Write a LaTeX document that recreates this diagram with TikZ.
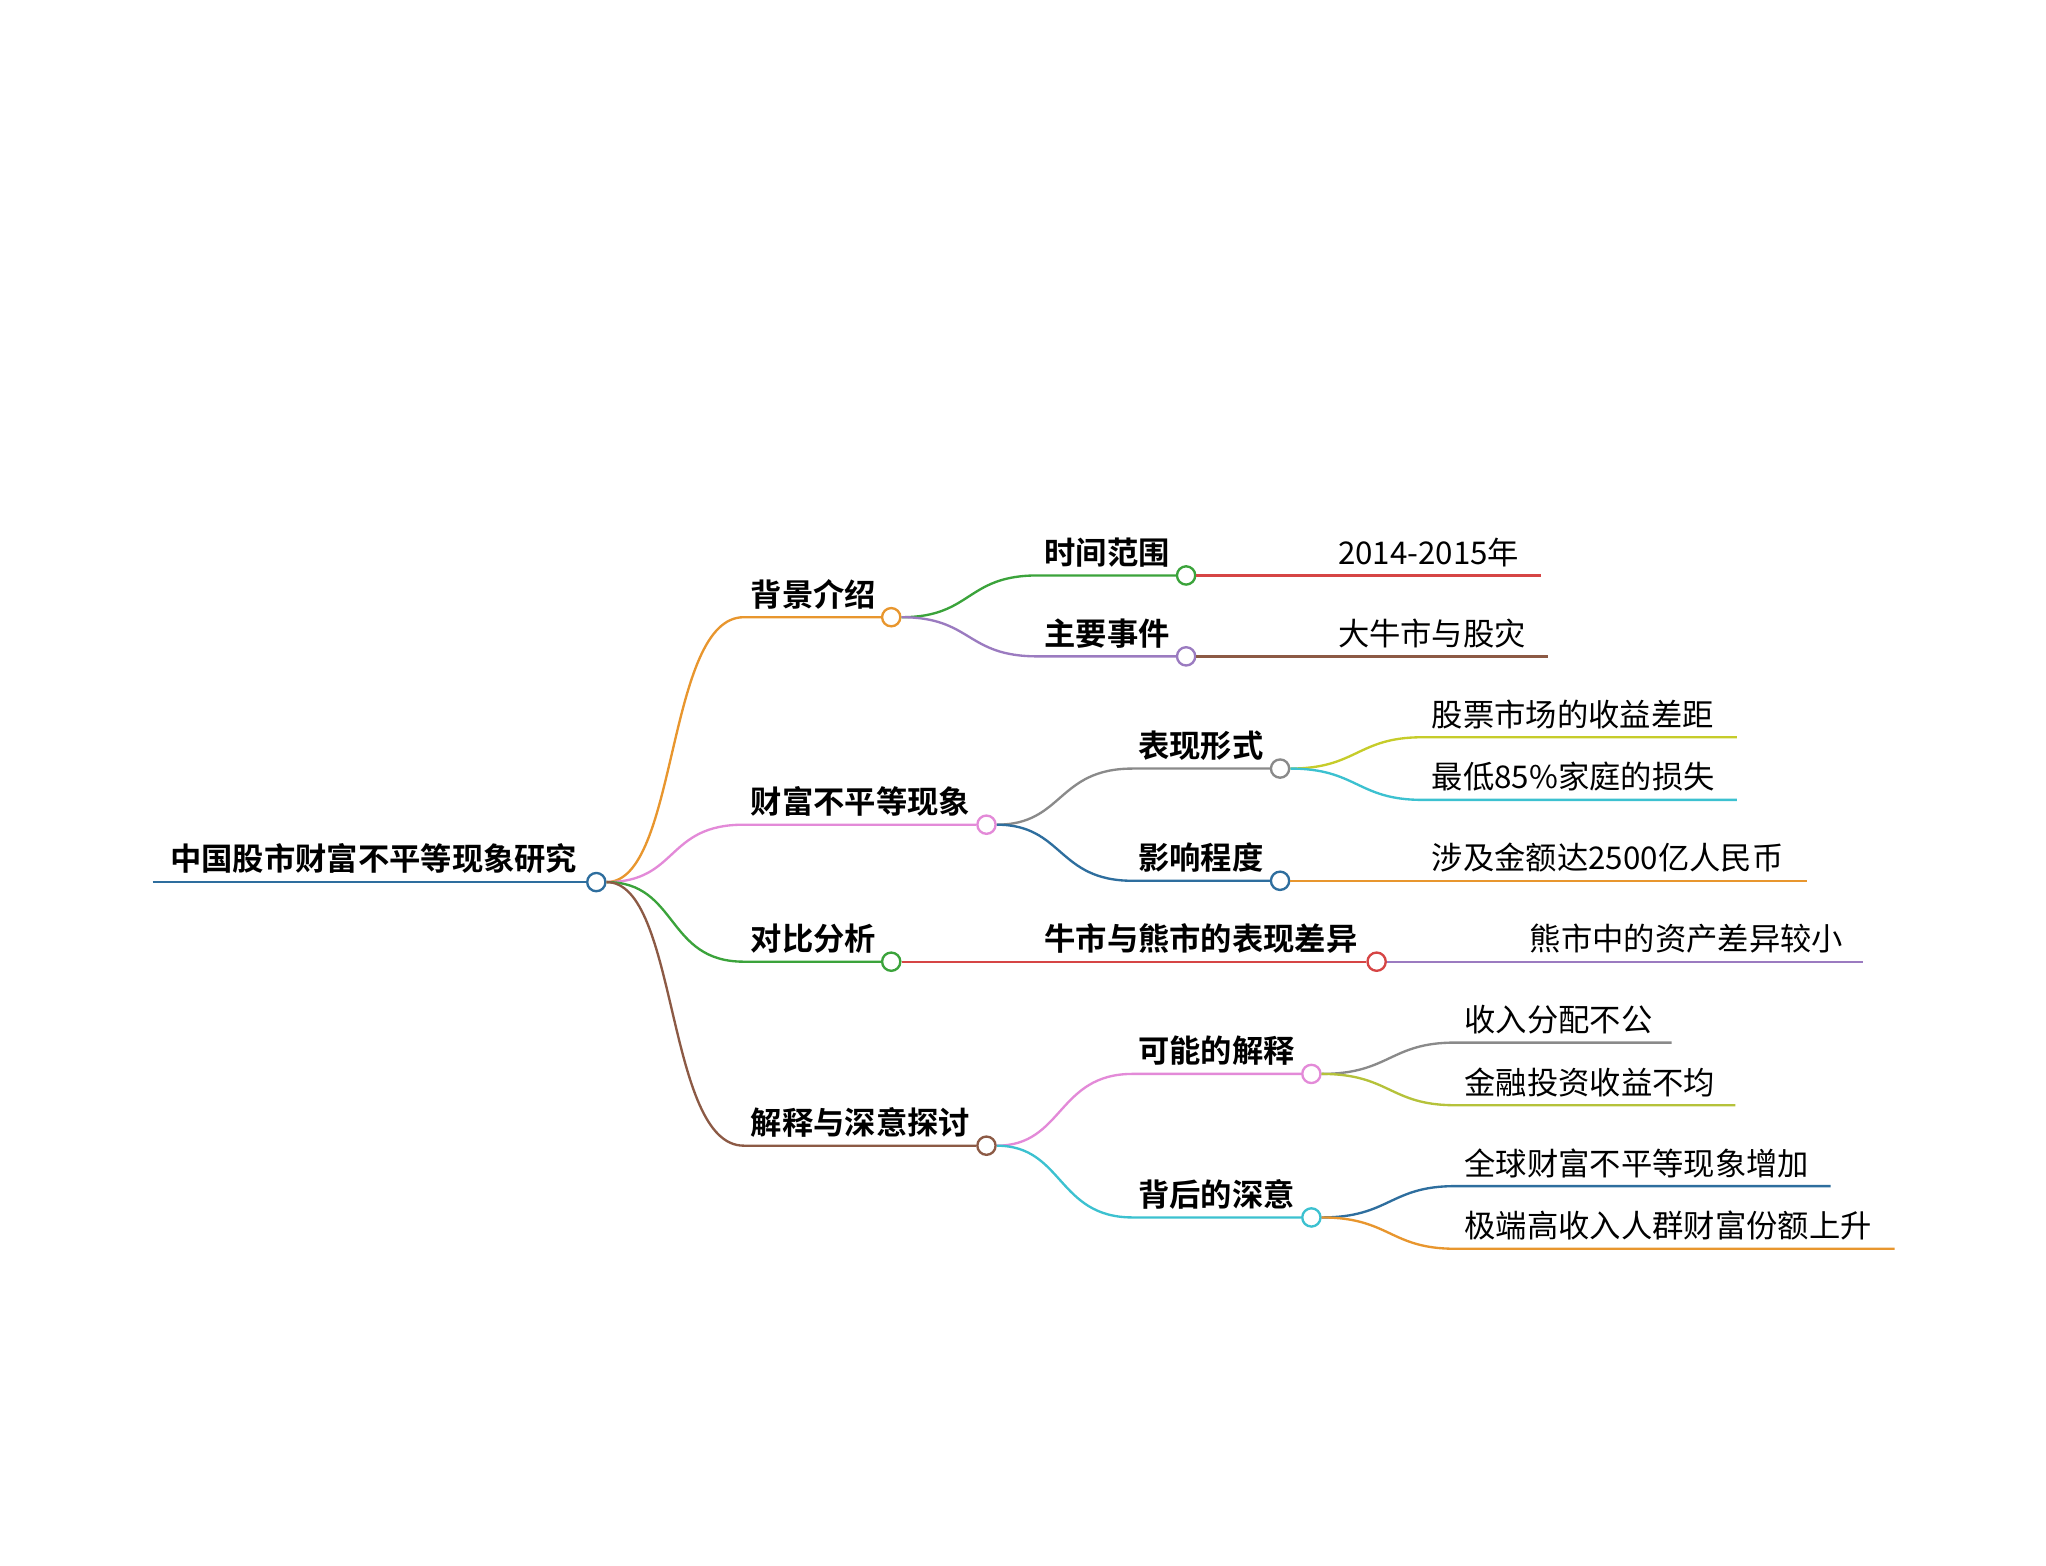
\documentclass[tikz,border=0pt]{standalone}
\usepackage{fontspec}
\setmainfont{Noto Sans CJK SC}[BoldFont={Noto Sans CJK SC Bold}]
\definecolor{cBlue}{HTML}{2E6E9E}
\definecolor{cOrange}{HTML}{E8962E}
\definecolor{cPink}{HTML}{E38AD8}
\definecolor{cGreen}{HTML}{3BA33B}
\definecolor{cBrown}{HTML}{8C5A45}
\definecolor{cPurple}{HTML}{9B7BC0}
\definecolor{cRed}{HTML}{D64545}
\definecolor{cGray}{HTML}{8A8A8A}
\definecolor{cYel}{HTML}{C6CC2A}
\definecolor{cCyan}{HTML}{3CC1D0}
\definecolor{cOlive}{HTML}{B5C23A}
\tikzset{
 ln/.style={line width=0.9pt},
 dot/.style={circle,draw,fill=white,line width=0.9pt,minimum size=7pt,inner sep=0pt},
 lab/.style={anchor=south west,inner sep=0pt,font=\fontsize{12}{14}\selectfont},
 blab/.style={lab,font=\fontsize{12}{14}\selectfont\bfseries},
}
\begin{document}
\begin{tikzpicture}[x=0.5pt,y=-0.5pt]
\useasboundingbox (0,0) rectangle (1568,1200);
% root
\coordinate (r0) at (117,676);
\node[dot,draw=cBlue] (r) at (457,676) {};
\draw[ln,cBlue] (r0) -- (r.west);
\node[blab] at (130,670) {中国股市财富不平等现象研究};
% level1
\node[dot,draw=cOrange] (a) at (683,473) {};
\node[dot,draw=cPink] (b) at (756,632) {};
\node[dot,draw=cGreen] (c) at (683,737) {};
\node[dot,draw=cBrown] (d) at (756,878) {};
\coordinate (as) at (570,473);\coordinate (bs) at (570,632);
\coordinate (cs) at (570,737);\coordinate (ds) at (570,878);
\draw[ln,cOrange] (r.east) .. controls (520,676) and (510,473) .. (as) -- (a.west);
\draw[ln,cPink] (r.east) .. controls (520,676) and (510,632) .. (bs) -- (b.west);
\draw[ln,cGreen] (r.east) .. controls (520,676) and (510,737) .. (cs) -- (c.west);
\draw[ln,cBrown] (r.east) .. controls (520,676) and (510,878) .. (ds) -- (d.west);
\node[blab] at (575,467) {背景介绍};
\node[blab] at (575,626) {财富不平等现象};
\node[blab] at (575,731) {对比分析};
\node[blab] at (575,872) {解释与深意探讨};
% level2
\node[dot,draw=cGreen] (a1) at (909,441) {};
\node[dot,draw=cPurple] (a2) at (909,503) {};
\node[dot,draw=cGray] (b1) at (981,589) {};
\node[dot,draw=cBlue] (b2) at (981,675) {};
\node[dot,draw=cRed] (c1) at (1055,737) {};
\node[dot,draw=cPink] (d1) at (1005,823) {};
\node[dot,draw=cCyan] (d2) at (1005,933) {};
\coordinate (a1s) at (795,441);\coordinate (a2s) at (795,503);
\coordinate (b1s) at (868,589);\coordinate (b2s) at (868,675);
\coordinate (d1s) at (868,823);\coordinate (d2s) at (868,933);
\draw[ln,cGreen] (a.east) .. controls (745,473) and (740,441) .. (a1s) -- (a1.west);
\draw[ln,cPurple] (a.east) .. controls (745,473) and (740,503) .. (a2s) -- (a2.west);
\draw[ln,cGray] (b.east) .. controls (815,632) and (810,589) .. (b1s) -- (b1.west);
\draw[ln,cBlue] (b.east) .. controls (815,632) and (810,675) .. (b2s) -- (b2.west);
\draw[ln,cRed] (c.east) -- (c1.west);
\draw[ln,cPink] (d.east) .. controls (815,878) and (810,823) .. (d1s) -- (d1.west);
\draw[ln,cCyan] (d.east) .. controls (815,878) and (810,933) .. (d2s) -- (d2.west);
\node[blab] at (800,435) {时间范围};
\node[blab] at (800,497) {主要事件};
\node[blab] at (872,583) {表现形式};
\node[blab] at (872,669) {影响程度};
\node[blab] at (800,731) {牛市与熊市的表现差异};
\node[blab] at (872,817) {可能的解释};
\node[blab] at (872,927) {背后的深意};
% leaves
\coordinate (l1) at (1181,441);\coordinate (l2) at (1186,503);
\coordinate (l3s) at (1090,565);\coordinate (l3) at (1331,565);
\coordinate (l4s) at (1090,613);\coordinate (l4) at (1331,613);
\coordinate (l5) at (1385,675);\coordinate (l6) at (1428,737);
\coordinate (l7s) at (1115,799);\coordinate (l7) at (1281,799);
\coordinate (l8s) at (1115,847);\coordinate (l8) at (1330,847);
\coordinate (l9s) at (1115,909);\coordinate (l9) at (1403,909);
\coordinate (l10s) at (1115,957);\coordinate (l10) at (1452,957);
\draw[ln,cRed] (a1.east) -- (l1);
\draw[ln,cBrown] (a2.east) -- (l2);
\draw[ln,cYel] (b1.east) .. controls (1040,589) and (1040,565) .. (l3s) -- (l3);
\draw[ln,cCyan] (b1.east) .. controls (1040,589) and (1040,613) .. (l4s) -- (l4);
\draw[ln,cOrange] (b2.east) -- (l5);
\draw[ln,cPurple] (c1.east) -- (l6);
\draw[ln,cGray] (d1.east) .. controls (1065,823) and (1065,799) .. (l7s) -- (l7);
\draw[ln,cOlive] (d1.east) .. controls (1065,823) and (1065,847) .. (l8s) -- (l8);
\draw[ln,cBlue] (d2.east) .. controls (1065,933) and (1065,909) .. (l9s) -- (l9);
\draw[ln,cOrange] (d2.east) .. controls (1065,933) and (1065,957) .. (l10s) -- (l10);
\node[lab] at (1025,435) {2014-2015年};
\node[lab] at (1025,497) {大牛市与股灾};
\node[lab] at (1097,559) {股票市场的收益差距};
\node[lab] at (1097,607) {最低85\%家庭的损失};
\node[lab] at (1097,669) {涉及金额达2500亿人民币};
\node[lab] at (1172,731) {熊市中的资产差异较小};
\node[lab] at (1122,793) {收入分配不公};
\node[lab] at (1122,841) {金融投资收益不均};
\node[lab] at (1122,903) {全球财富不平等现象增加};
\node[lab] at (1122,951) {极端高收入人群财富份额上升};
\end{tikzpicture}
\end{document}
